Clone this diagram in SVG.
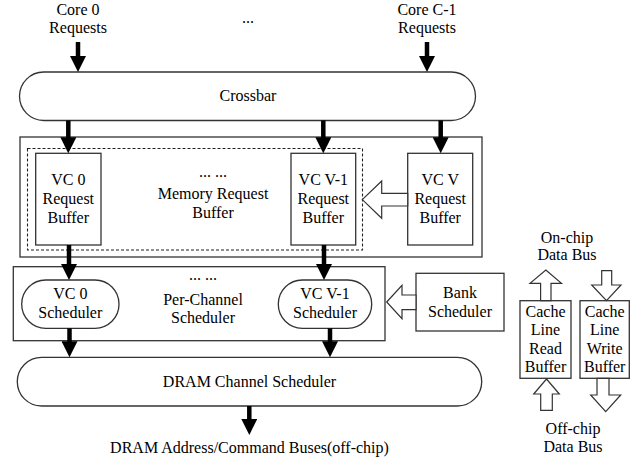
<svg xmlns="http://www.w3.org/2000/svg" width="633" height="463" viewBox="0 0 633 463" font-family="Liberation Serif, DejaVu Serif, serif" font-size="16">
  <style>
    text { font-family: "Liberation Serif", "DejaVu Serif", serif; font-size: 16px; fill: #000; text-anchor: middle; }
    .box { fill: #fff; stroke: #333; stroke-width: 1.3; }
    .dash { fill: none; stroke: #222; stroke-width: 1.1; stroke-dasharray: 3 2; }
    .flow { stroke: #000; stroke-width: 4.5; fill: none; marker-end: url(#head); }
    .hollow { fill: #fff; stroke: #333; stroke-width: 1.2; stroke-linejoin: miter; }
  </style>
  <defs>
    <marker id="head" markerUnits="userSpaceOnUse" markerWidth="16" markerHeight="16" refX="8" refY="8" orient="auto" viewBox="0 0 16 16">
      <path d="M0,0 L16,8 L0,16 z" fill="#000"/>
    </marker>
  </defs>

  <!-- inputs -->
  <g id="core0">
    <text x="78" y="15">Core 0</text>
    <text x="78" y="33">Requests</text>
  </g>
  <g id="coreDots"><text x="248" y="23">...</text></g>
  <g id="coreC1">
    <text x="427" y="15">Core C-1</text>
    <text x="427" y="33">Requests</text>
  </g>

  <g id="crossbar">
    <rect class="box" x="19.5" y="72" width="456" height="48.5" rx="24.2"/>
    <text x="248" y="101">Crossbar</text>
  </g>

  <!-- memory request buffer -->
  <g id="memoryRequestBuffer">
    <rect class="box" x="20" y="137" width="462" height="120"/>
    <rect class="dash" x="27.5" y="148.5" width="335" height="101.5"/>
    <text x="213" y="177">... ...</text>
    <text x="213" y="199">Memory Request</text>
    <text x="213" y="218">Buffer</text>
  </g>
  <g id="vc0Buffer">
    <rect class="box" x="35.7" y="153.3" width="65.3" height="91.7"/>
    <text x="68.3" y="185">VC 0</text>
    <text x="68.3" y="204">Request</text>
    <text x="68.3" y="223">Buffer</text>
  </g>
  <g id="vcV1Buffer">
    <rect class="box" x="291" y="153.3" width="64.7" height="91.7"/>
    <text x="323.3" y="185">VC V-1</text>
    <text x="323.3" y="204">Request</text>
    <text x="323.3" y="223">Buffer</text>
  </g>
  <g id="vcVBuffer">
    <rect class="box" x="407.7" y="153.3" width="65" height="91.7"/>
    <text x="440.2" y="185">VC V</text>
    <text x="440.2" y="204">Request</text>
    <text x="440.2" y="223">Buffer</text>
  </g>

  <!-- per-channel scheduler -->
  <g id="perChannelScheduler">
    <rect class="box" x="13.3" y="266.7" width="371.7" height="74"/>
    <text x="203" y="280">... ...</text>
    <text x="203" y="305">Per-Channel</text>
    <text x="203" y="323">Scheduler</text>
  </g>
  <g id="vc0Scheduler">
    <rect class="box" x="21.7" y="280" width="97.3" height="48.3" rx="24"/>
    <text x="70.3" y="299">VC 0</text>
    <text x="70.3" y="318">Scheduler</text>
  </g>
  <g id="vcV1Scheduler">
    <rect class="box" x="278.3" y="280" width="93.4" height="48.3" rx="24"/>
    <text x="325" y="299">VC V-1</text>
    <text x="325" y="318">Scheduler</text>
  </g>
  <g id="bankScheduler">
    <rect class="box" x="416" y="273.3" width="88" height="57.7"/>
    <text x="460" y="297.7">Bank</text>
    <text x="460" y="316.7">Scheduler</text>
  </g>

  <g id="dramChannelScheduler">
    <rect class="box" x="17.3" y="357.3" width="464.4" height="48.7" rx="24.3"/>
    <text x="249.5" y="386.7">DRAM Channel Scheduler</text>
  </g>
  <g id="dramBuses">
    <text x="249.5" y="453">DRAM Address/Command Buses(off-chip)</text>
  </g>

  <!-- data path buffers -->
  <g id="onChipBus">
    <text x="567" y="243">On-chip</text>
    <text x="567" y="260">Data Bus</text>
  </g>
  <g id="readBuffer">
    <rect class="box" x="520" y="300.7" width="51" height="77.6"/>
    <text x="545.5" y="316.7">Cache</text>
    <text x="545.5" y="335.2">Line</text>
    <text x="545.5" y="353.7">Read</text>
    <text x="545.5" y="372">Buffer</text>
  </g>
  <g id="writeBuffer">
    <rect class="box" x="580" y="300.7" width="49.3" height="77.6"/>
    <text x="604.7" y="316.7">Cache</text>
    <text x="604.7" y="335.2">Line</text>
    <text x="604.7" y="353.7">Write</text>
    <text x="604.7" y="372">Buffer</text>
  </g>
  <g id="offChipBus">
    <text x="573" y="433.5">Off-chip</text>
    <text x="573" y="452">Data Bus</text>
  </g>

  <!-- connectors -->
  <g id="connectors">
    <line class="flow" x1="78" y1="42" x2="78" y2="64"/>
    <line class="flow" x1="427" y1="42" x2="427" y2="64"/>

    <line class="flow" x1="68.3" y1="120.5" x2="68.3" y2="145.3"/>
    <line class="flow" x1="323.3" y1="120.5" x2="323.3" y2="145.3"/>
    <line class="flow" x1="440.7" y1="120.5" x2="440.7" y2="145.3"/>

    <line class="flow" x1="69" y1="245" x2="69" y2="272"/>
    <line class="flow" x1="324" y1="245" x2="324" y2="272"/>

    <line class="flow" x1="69.5" y1="328.3" x2="69.5" y2="349.3"/>
    <line class="flow" x1="330" y1="328.3" x2="330" y2="349.3"/>

    <line class="flow" x1="249.3" y1="406" x2="249.3" y2="427"/>

    <!-- VC V buffer feeds VC V-1 buffer -->
    <polygon class="hollow" points="362.3,199.6 381.7,181 381.7,193.3 407.7,193.3 407.7,206 381.7,206 381.7,218.3"/>
    <!-- bank scheduler feeds per-channel scheduler -->
    <polygon class="hollow" points="386.7,302 402,285.3 402,295 416,295 416,309.7 402,309.7 402,318.7"/>

    <!-- read buffer: off-chip in, on-chip out -->
    <polygon class="hollow" points="545.8,270 561.5,283.3 551,283.3 551,300.7 540.6,300.7 540.6,283.3 530,283.3"/>
    <polygon class="hollow" points="546.5,379 559.3,394 552.3,394 552.3,410.3 540.7,410.3 540.7,394 533.7,394"/>
    <!-- write buffer: on-chip in, off-chip out -->
    <polygon class="hollow" points="601.7,270.7 611.7,270.7 611.7,285 621,285 606.5,300.7 591.7,285 601.7,285"/>
    <polygon class="hollow" points="597,378.3 609,378.3 609,395 620.7,395 605.7,411.7 590.7,395 597,395"/>
  </g>
</svg>
